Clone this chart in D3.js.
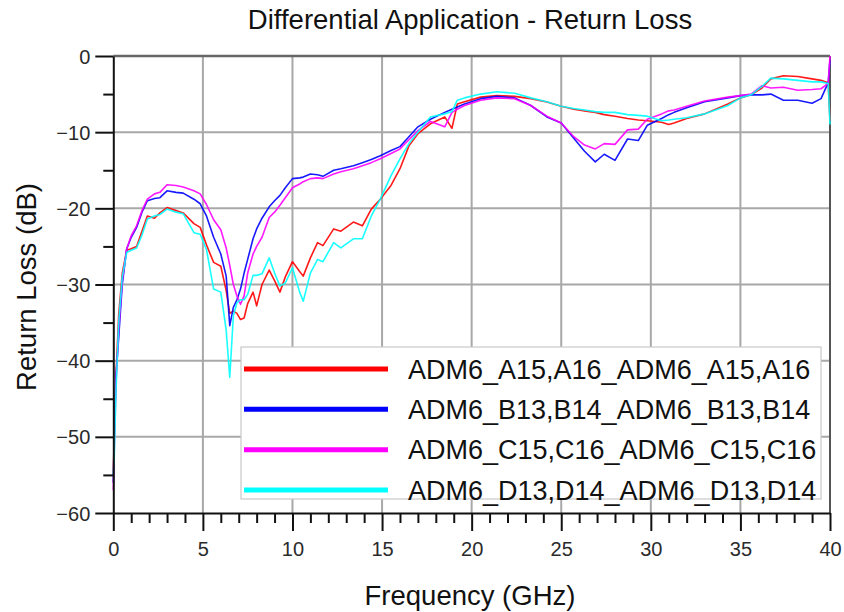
<!DOCTYPE html>
<html>
<head>
<meta charset="utf-8">
<script src="https://cdn.jsdelivr.net/npm/d3@7"></script>
<style>
  html, body { margin: 0; padding: 0; background: #fff; }
  svg { display: block; font-family: "Liberation Sans", Arial, sans-serif; }
</style>
</head>
<body>
<svg id="chart" width="844" height="612"></svg>
<script>
const freq = [0, 0.05, 0.15, 0.3, 0.5, 0.75, 1.0, 1.3, 1.6, 1.9, 2.3, 2.6, 3.0, 3.5, 3.9, 4.5, 4.85, 5.2, 5.6, 6.0, 6.3, 6.5, 6.7, 6.9, 7.1, 7.3, 7.5, 7.8, 8.0, 8.3, 8.7, 9.0, 9.3, 9.6, 10.0, 10.4, 10.6, 11.0, 11.4, 11.7, 12.3, 12.7, 13.4, 13.9, 14.4, 14.9, 15.5, 16.0, 16.5, 17.0, 17.7, 18.5, 18.9, 19.2, 19.6, 20.5, 21.4, 22.4, 23.3, 24.2, 25.0, 25.7, 26.3, 26.9, 27.4, 28.0, 28.7, 29.3, 29.8, 30.6, 31.0, 31.3, 32.0, 33.0, 34.3, 35.0, 35.6, 36.2, 36.7, 37.4, 38.2, 39.0, 39.5, 39.9, 40.0];

const seriesA = [-55, -50, -42, -34, -28.5, -25.5, -25.3, -25.0, -23.0, -21.0, -21.3, -20.6, -19.9, -20.3, -20.6, -22.0, -22.5, -24.8, -27.1, -27.6, -30.8, -33.8, -33.5, -33.8, -34.6, -34.4, -32.5, -31.0, -32.8, -30.0, -28.1, -29.5, -31.0, -29.0, -27.0, -28.3, -28.9, -26.5, -24.5, -24.9, -22.7, -23.0, -21.8, -22.3, -20.1, -18.8, -17.0, -14.8, -11.8, -10.2, -8.9, -8.0, -9.5, -6.3, -6.0, -5.4, -5.2, -5.3, -5.6, -6.05, -6.6, -7.0, -7.2, -7.4, -7.7, -7.9, -8.2, -8.4, -8.5, -8.7, -9.0, -8.8, -8.2, -7.6, -6.3, -5.5, -5.1, -4.2, -3.0, -2.6, -2.7, -3.0, -3.2, -3.5, -8.5];

const seriesB = [-56, -50, -42, -37, -30, -25.3, -23.8, -22.5, -20.5, -19.0, -18.7, -18.6, -17.7, -17.9, -18.0, -18.8, -19.4, -21.0, -23.8, -26.0, -28.9, -35.4, -33.0, -32.0, -30.6, -28.5, -26.7, -24.0, -22.7, -21.3, -19.8, -19.0, -18.3, -17.3, -16.1, -16.0, -15.9, -15.5, -15.6, -15.8, -15.0, -14.8, -14.4, -14.0, -13.6, -13.1, -12.4, -11.9, -10.6, -9.3, -8.3, -7.4, -7.0, -6.7, -6.3, -5.6, -5.3, -5.5, -6.5, -8.0, -8.8, -10.8, -12.5, -13.9, -12.9, -13.7, -10.9, -11.1, -9.1, -8.2, -7.7, -7.4, -6.8, -6.0, -5.5, -5.2, -5.1, -5.1, -5.0, -5.8, -5.8, -6.2, -5.6, -3.5, -0.5];

const seriesC = [-57, -52, -43, -36, -29.5, -25.3, -23.6, -22.3, -20.3, -18.8, -18.1, -17.9, -16.9, -17.0, -17.2, -17.7, -18.1, -19.5, -21.5, -22.8, -25.2, -27.5, -30.0, -31.5, -32.6, -31.5, -28.5, -26.0, -25.0, -23.8, -21.2, -20.5, -19.6, -18.6, -17.3, -16.8, -16.5, -16.1, -16.0, -16.1, -15.5, -15.2, -14.8, -14.4, -14.0, -13.5, -12.8, -12.2, -11.0, -9.8, -8.6, -9.3, -7.4, -7.0, -6.5, -5.8, -5.5, -5.6, -6.5, -7.9, -8.8, -10.6, -11.7, -12.2, -11.5, -11.6, -9.7, -9.6, -8.3, -7.6, -7.2, -7.1, -6.6, -5.9, -5.4, -5.2, -5.0, -3.9, -4.2, -4.1, -4.5, -4.4, -4.3, -3.6, 0];

const seriesD = [-55, -53, -44, -35, -29, -25.8, -25.5, -25.2, -23.5, -21.4, -21.0, -20.8, -20.1, -20.5, -20.7, -23.2, -23.4, -25.4, -30.6, -31.0, -36.0, -42.2, -34.1, -32.4, -32.0, -32.0, -31.3, -28.8, -28.8, -28.6, -26.5, -28.5, -30.2, -29.8, -27.8, -31.0, -32.2, -28.5, -26.7, -27.0, -24.5, -25.2, -24.0, -24.0, -21.0, -18.8, -15.7, -13.5, -11.5, -10.0, -8.0, -7.6, -7.3, -5.8, -5.5, -5.0, -4.7, -4.9, -5.5, -6.0, -6.6, -6.9, -7.1, -7.3, -7.4, -7.4, -7.7, -7.8, -7.9, -8.5, -8.4, -8.3, -8.1, -7.6, -6.5, -5.5, -5.1, -4.0, -2.9, -3.0, -3.2, -3.4, -3.4, -3.6, -9.0];

const seriesNames = ["ADM6_A15,A16_ADM6_A15,A16", "ADM6_B13,B14_ADM6_B13,B14", "ADM6_C15,C16_ADM6_C15,C16", "ADM6_D13,D14_ADM6_D13,D14"];
const seriesColors = ["#ff0000", "#0000ff", "#ff00ff", "#00ffff"];
const xMajorTicks = [0, 5, 10, 15, 20, 25, 30, 35, 40];
const yMajorTicks = [0, -10, -20, -30, -40, -50, -60];

const titleText = "Differential Application - Return Loss";
const xLabel = "Frequency (GHz)";
const yLabel = "Return Loss (dB)";

const svg = d3.select("#chart");
const x = d3.scaleLinear().domain([0, 40]).range([113.3, 830]);
const y = d3.scaleLinear().domain([-60, 0]).range([513, 56]);

// grid
const grid = svg.append("g");
grid.selectAll("line.v").data(xMajorTicks.filter(d => d > 0 && d < 40)).enter().append("line")
  .attr("x1", d => x(d)).attr("x2", d => x(d)).attr("y1", y(0)).attr("y2", y(-60))
  .attr("stroke", "#a8a8a8").attr("stroke-width", 2);
grid.selectAll("line.h").data(yMajorTicks.filter(d => d < 0 && d > -60)).enter().append("line")
  .attr("x1", x(0)).attr("x2", x(40)).attr("y1", d => y(d)).attr("y2", d => y(d))
  .attr("stroke", "#a8a8a8").attr("stroke-width", 2);
// frame top/right
grid.append("line").attr("x1", x(0)).attr("x2", x(40)).attr("y1", y(0)).attr("y2", y(0))
  .attr("stroke", "#666").attr("stroke-width", 2.5);
grid.append("line").attr("x1", x(40)).attr("x2", x(40)).attr("y1", y(0)).attr("y2", y(-60))
  .attr("stroke", "#555").attr("stroke-width", 2);

// curves
const allSeries = [seriesA, seriesB, seriesC, seriesD];
const lineGen = d3.line().x((d, i) => x(freq[i])).y(d => y(d));
const curves = svg.append("g");
allSeries.forEach((s, k) => {
  curves.append("path").datum(s).attr("d", lineGen)
    .attr("fill", "none").attr("stroke", seriesColors[k]).attr("stroke-width", 1.6)
    .attr("stroke-linejoin", "round").attr("opacity", 0.9);
});

// axes
const fontTick = "20px";
const xMinor = d3.range(0, 41, 1).filter(d => d % 5 !== 0);
const yMinor = d3.range(-55, 0, 10);

const xAxisG = svg.append("g").attr("transform", `translate(0,${y(-60)})`);
xAxisG.call(d3.axisBottom(x).tickValues(xMajorTicks).tickSize(18).tickSizeOuter(0).tickPadding(6).tickFormat(d3.format("d")));
const xAxisMinor = svg.append("g").attr("transform", `translate(0,${y(-60)})`);
xAxisMinor.call(d3.axisBottom(x).tickValues(xMinor).tickSize(10).tickSizeOuter(0).tickFormat(""));
xAxisMinor.select(".domain").remove();

const yAxisG = svg.append("g").attr("transform", `translate(${x(0)},0)`);
yAxisG.call(d3.axisLeft(y).tickValues(yMajorTicks).tickSize(18).tickSizeOuter(0).tickPadding(5).tickFormat(d3.format("d")));
const yAxisMinor = svg.append("g").attr("transform", `translate(${x(0)},0)`);
yAxisMinor.call(d3.axisLeft(y).tickValues(yMinor).tickSize(10).tickSizeOuter(0).tickFormat(""));
yAxisMinor.select(".domain").remove();

[xAxisG, yAxisG, xAxisMinor, yAxisMinor].forEach(g => {
  g.selectAll("line").attr("stroke", "#111").attr("stroke-width", 2);
  g.selectAll(".domain").attr("stroke", "#111").attr("stroke-width", 2);
  g.selectAll("text").attr("font-size", fontTick).attr("fill", "#2a2a2a")
    .attr("font-family", "'Liberation Sans', Arial, sans-serif");
});
xAxisG.selectAll("text").attr("dy", "0.95em");
yAxisG.selectAll("text").attr("dy", "0.35em");

// legend
const lg = svg.append("g");
lg.append("rect").attr("x", 241).attr("y", 347).attr("width", 580).attr("height", 152)
  .attr("fill", "#fff").attr("stroke", "#c8c8c8").attr("stroke-width", 1.2);
const legendY = d3.scaleLinear().domain([0, 3]).range([369, 490]);
seriesNames.forEach((name, k) => {
  lg.append("line").attr("x1", 244).attr("x2", 388).attr("y1", legendY(k)).attr("y2", legendY(k))
    .attr("stroke", seriesColors[k]).attr("stroke-width", 5);
  lg.append("text").attr("x", 408).attr("y", legendY(k) + 9.5).text(name)
    .attr("font-size", "27px").attr("fill", "#111");
});

// titles
svg.append("text").attr("x", 470).attr("y", 29).attr("text-anchor", "middle")
  .attr("font-size", "27.5px").attr("fill", "#111").text(titleText);
svg.append("text").attr("x", 470).attr("y", 605).attr("text-anchor", "middle")
  .attr("font-size", "27.5px").attr("fill", "#111").text(xLabel);
svg.append("text").attr("transform", "translate(36,287) rotate(-90)").attr("text-anchor", "middle")
  .attr("font-size", "27.5px").attr("fill", "#111").text(yLabel);
</script>
</body>
</html>
